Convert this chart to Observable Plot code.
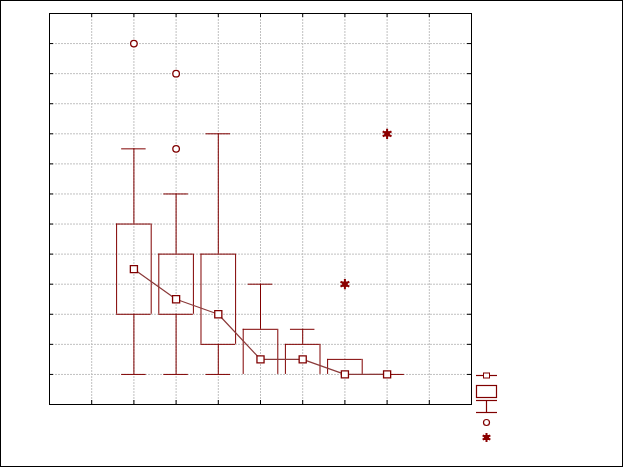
<!DOCTYPE html>
<html><head><meta charset="utf-8">
<script src="https://cdn.jsdelivr.net/npm/d3@7"></script>
<script src="https://cdn.jsdelivr.net/npm/@observablehq/plot@0.6"></script>
<style>
html,body{margin:0;padding:0;background:#fff;}
#wrap{position:relative;width:624px;height:468px;overflow:hidden;}
#border{position:absolute;left:0;top:0;width:623px;height:467px;box-sizing:border-box;border:1px solid #000;pointer-events:none;}
#legend{position:absolute;left:0;top:0;}
</style></head><body>
<div id="wrap"><div id="chart"></div><svg id="legend" width="624" height="468"></svg><div id="border"></div></div>
<script>
// group positions on the x axis
const groups = [2, 3, 4, 5, 6, 7, 8];
// central marker (connected by line)
const means = [4.5, 3.5, 3, 1.5, 1.5, 1, 1];
// box edges
const boxLow = [3, 3, 2, 1, 1, 1, 1];
const boxHigh = [6, 5, 5, 2.5, 2, 1.5, 1];
// whisker ends
const whiskerLow = [1, 1, 1, 1, 1, 1, 1];
const whiskerHigh = [8.5, 7, 9, 4, 2.5, 1.5, 1];
// outliers (open circles)
const outlierX = [2, 3, 3];
const outlierY = [12, 11, 8.5];
// extremes (stars)
const extremeX = [7, 8];
const extremeY = [4, 9];
// tick values
const xTicks = [1, 2, 3, 4, 5, 6, 7, 8, 9];
const yTicks = [1, 2, 3, 4, 5, 6, 7, 8, 9, 10, 11, 12];

const W = 624, H = 468, mL = 49, mR = 153, mT = 13, mB = 64;
const plotW = W - mL - mR, plotH = H - mT - mB;
const RED = "#800000";
const hw = 0.41, cw = 0.29;

const rows = groups.map((g, i) => ({x: g, mean: means[i], lo: boxLow[i], hi: boxHigh[i], wl: whiskerLow[i], wh: whiskerHigh[i]}));
const outliers = outlierX.map((x, i) => ({x, y: outlierY[i]}));
const extremes = extremeX.map((x, i) => ({x, y: extremeY[i]}));

const chart = Plot.plot({
  width: W, height: H,
  marginLeft: mL, marginRight: mR, marginTop: mT, marginBottom: mB,
  x: {domain: [0, 10], axis: null},
  y: {domain: [0, 13], axis: null},
  marks: [
    Plot.ruleX(xTicks, {stroke: "#c0c0c0", strokeDasharray: "2,1", strokeWidth: 1}),
    Plot.ruleY(yTicks, {stroke: "#c0c0c0", strokeDasharray: "2,1", strokeWidth: 1}),
    // inward ticks
    Plot.ruleX(xTicks, {stroke: "#000", insetBottom: plotH - 4}),
    Plot.ruleX(xTicks, {stroke: "#000", insetTop: plotH - 4}),
    Plot.ruleY(yTicks, {stroke: "#000", insetRight: plotW - 4}),
    Plot.ruleY(yTicks, {stroke: "#000", insetLeft: plotW - 4}),
    Plot.frame({stroke: "#000", strokeWidth: 1}),
    // whiskers
    Plot.ruleX(rows.filter(d => d.wh > d.hi), {x: "x", y1: "hi", y2: "wh", stroke: RED}),
    Plot.ruleY(rows.filter(d => d.wh > d.hi), {y: "wh", x1: d => d.x - cw, x2: d => d.x + cw, stroke: RED}),
    Plot.ruleX(rows.filter(d => d.wl < d.lo), {x: "x", y1: "wl", y2: "lo", stroke: RED}),
    Plot.ruleY(rows.filter(d => d.wl < d.lo), {y: "wl", x1: d => d.x - cw, x2: d => d.x + cw, stroke: RED}),
    // boxes
    Plot.ruleX(rows, {x: d => d.x - hw, y1: "lo", y2: "hi", stroke: RED}),
    Plot.ruleX(rows, {x: d => d.x + hw, y1: "lo", y2: "hi", stroke: RED}),
    Plot.ruleY(rows, {y: "hi", x1: d => d.x - hw, x2: d => d.x + hw, stroke: RED}),
    Plot.ruleY(rows.filter(d => d.lo > d.wl), {y: "lo", x1: d => d.x - hw, x2: d => d.x + hw, stroke: RED}),
    // connecting line & markers
    Plot.line(rows, {x: "x", y: "mean", stroke: "#8b3a3a", strokeWidth: 1.2}),
    Plot.dot(rows, {x: "x", y: "mean", symbol: "square", r: 4, fill: "#fff", stroke: RED, strokeWidth: 1.3}),
    Plot.dot(outliers, {x: "x", y: "y", r: 3.3, fill: "#fff", stroke: RED, strokeWidth: 1.3}),
    Plot.dot(extremes, {x: "x", y: "y", symbol: "square", r: 3, fill: "#8b0000", stroke: "none"}),
    Plot.dot(extremes, {x: "x", y: "y", symbol: "asterisk", r: 4.8, stroke: "#8b0000", strokeWidth: 2})
  ]
});
document.getElementById("chart").appendChild(chart);

// legend
const lg = d3.select("#legend");
const cx = 486.5;
function line(x1, y1, x2, y2) { lg.append("line").attr("x1", x1).attr("y1", y1).attr("x2", x2).attr("y2", y2).attr("stroke", RED).attr("stroke-width", 1.2); }
line(476, 375.5, 497, 375.5);
lg.append("rect").attr("x", cx - 3).attr("y", 373).attr("width", 6).attr("height", 5).attr("fill", "#fff").attr("stroke", RED);
lg.append("rect").attr("x", 476.5).attr("y", 385.5).attr("width", 20).attr("height", 12).attr("fill", "#fff").attr("stroke", RED).attr("stroke-width", 1.2);
line(476, 400.5, 497, 400.5);
line(cx, 400.5, cx, 412.5);
line(476, 412.5, 497, 412.5);
lg.append("circle").attr("cx", cx).attr("cy", 422.5).attr("r", 3).attr("fill", "#fff").attr("stroke", RED).attr("stroke-width", 1.2);
lg.append("rect").attr("x", cx - 2.5).attr("y", 435).attr("width", 5).attr("height", 5).attr("fill", "#8b0000");
lg.append("path").attr("d", d3.symbol(d3.symbolAsterisk, 55)()).attr("transform", `translate(${cx},437.5)`).attr("stroke", "#8b0000").attr("stroke-width", 2).attr("fill", "none");
</script>
</body></html>
